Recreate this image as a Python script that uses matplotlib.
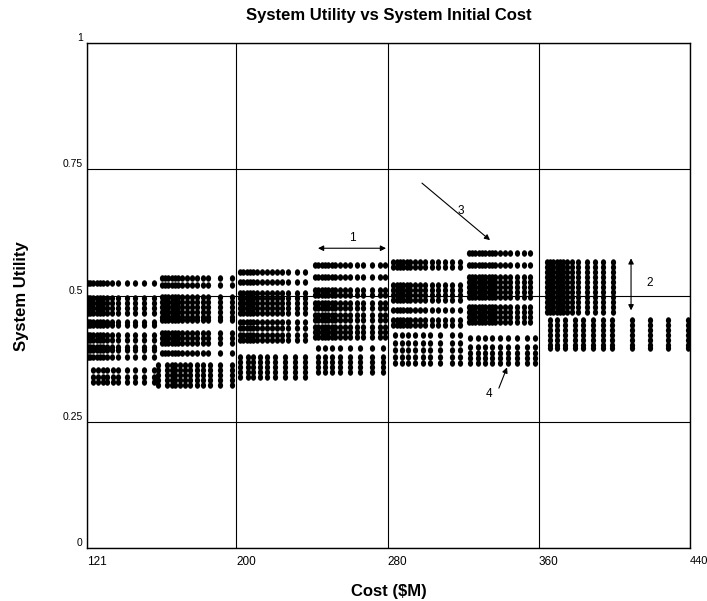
import numpy as np
import matplotlib.pyplot as plt
from matplotlib.path import Path
from matplotlib.transforms import Affine2D, ScaledTranslation

plt.rcParams['font.family'] = ['Liberation Sans', 'DejaVu Sans']

# design families: (cost columns in $M, utility levels) for the upper and lower bands
b1_cost = [121.5, 122.6, 124.2, 126.3, 127.9, 129.5, 131.6, 134.2, 137.4, 142.2, 146.4, 151.2, 156.4]
b1_util = [0.525, 0.495, 0.485, 0.475, 0.465, 0.448, 0.442, 0.422, 0.412, 0.398, 0.392, 0.378]
b1_low_cost = [124.2, 126.8, 129.5, 131.6, 134.7, 137.4, 142.2, 146.4, 151.2, 156.4]
b1_low_util = [0.352, 0.339, 0.329]

b2_cost = [160.7, 162.3, 163.9, 166.0, 167.6, 169.2, 171.3, 173.9, 176.5, 179.2, 182.4, 185.0, 191.4, 197.7]
b2_util = [0.535, 0.521, 0.497, 0.487, 0.477, 0.467, 0.457, 0.451, 0.426, 0.416, 0.406, 0.386]
b2_low_cost = [158.6, 163.3, 166.0, 167.6, 170.2, 172.8, 175.5, 179.2, 182.4, 186.1, 191.4, 197.7]
b2_low_util = [0.362, 0.352, 0.343, 0.333, 0.323]

b3_cost = [201.9, 203.5, 205.6, 207.2, 208.8, 210.9, 213.6, 216.2, 218.9, 221.5, 224.2, 227.3, 232.1, 236.3]
b3_util = [0.547, 0.527, 0.505, 0.495, 0.485, 0.475, 0.465, 0.448, 0.436, 0.422, 0.412]
b3_low_cost = [201.9, 206.2, 208.8, 212.5, 216.2, 220.5, 225.7, 231.0, 236.3]
b3_low_util = [0.378, 0.368, 0.358, 0.349, 0.339]

b4_cost = [241.6, 243.2, 245.3, 246.9, 248.5, 250.6, 252.2, 254.8, 257.5, 260.1, 263.8, 267.0, 271.8, 276.0, 278.5]
b4_util = [0.560, 0.537, 0.511, 0.501, 0.485, 0.475, 0.461, 0.451, 0.438, 0.428, 0.418]
b4_low_cost = [243.2, 246.9, 250.6, 254.8, 260.1, 265.4, 271.8, 277.6]
b4_low_util = [0.396, 0.378, 0.368, 0.358, 0.349]

b5_cost = [282.9, 285.0, 286.6, 288.2, 290.3, 291.9, 294.5, 297.2, 299.8, 303.5, 306.7, 310.4, 314.1, 318.3]
b5_util = [0.566, 0.556, 0.521, 0.511, 0.501, 0.491, 0.471, 0.451, 0.442]
b5_low_cost = [284.0, 287.7, 290.8, 294.5, 298.7, 302.4, 307.7, 314.1, 318.3]
b5_low_util = [0.422, 0.406, 0.392, 0.378, 0.366]

b6_cost = [323.1, 324.7, 326.3, 328.4, 330.0, 331.6, 333.7, 335.3, 336.9, 339.5, 342.2, 344.8, 348.5, 352.2, 355.4]
b6_util = [0.584, 0.560, 0.537, 0.527, 0.517, 0.507, 0.497, 0.477, 0.467, 0.457, 0.448]
b6_low_cost = [323.6, 327.8, 331.6, 335.3, 339.5, 343.7, 348.5, 353.8, 358.0]
b6_low_util = [0.416, 0.398, 0.386, 0.376, 0.366]

b7_cost = [364.3, 365.9, 367.5, 369.6, 371.2, 372.8, 374.9, 377.6, 380.7, 385.5, 389.7, 393.9, 399.2]
b7_util = [0.566, 0.556, 0.547, 0.537, 0.527, 0.517, 0.507, 0.497, 0.487, 0.477, 0.467]
b7_low_cost = [365.9, 369.6, 373.9, 379.2, 383.4, 388.7, 393.9, 398.7, 409.3, 418.8, 428.3, 438.9]
b7_low_util = [0.451, 0.442, 0.432, 0.422, 0.412, 0.402, 0.396]

families = [
    (b1_cost, b1_util), (b1_low_cost, b1_low_util),
    (b2_cost, b2_util), (b2_low_cost, b2_low_util),
    (b3_cost, b3_util), (b3_low_cost, b3_low_util),
    (b4_cost, b4_util), (b4_low_cost, b4_low_util),
    (b5_cost, b5_util), (b5_low_cost, b5_low_util),
    (b6_cost, b6_util), (b6_low_cost, b6_low_util),
    (b7_cost, b7_util), (b7_low_cost, b7_low_util),
]

x_ticks = [121, 200, 280, 360, 440]
y_ticks = [0, 0.25, 0.5, 0.75, 1]
y_tick_labels = ['0', '0.25', '0.5', '0.75', '1']

# slightly tall dot, like the original plotting package draws them
dot = Path.unit_circle().transformed(Affine2D().scale(0.8, 1.0))

fig = plt.figure(figsize=(7.07, 6.01), dpi=100)
ax = fig.add_axes([0.123, 0.088, 0.853, 0.840])

for cost, util in families:
    xx, yy = np.meshgrid(cost, util)
    ax.scatter(xx.ravel(), yy.ravel(), s=22, marker=dot, color='black', linewidths=0, zorder=3)

ax.set_xlim(121, 440)
ax.set_ylim(0, 1)
ax.set_xticks(x_ticks)
ax.set_xticklabels([str(t) for t in x_ticks], fontsize=8.5)
ax.set_yticks(y_ticks)
ax.set_yticklabels(y_tick_labels, fontsize=7.5)
for lab in ax.get_xticklabels():
    lab.set_horizontalalignment('left')
for lab in ax.get_yticklabels():
    lab.set_verticalalignment('bottom')
# last cost label sits on the right edge; pull it in so it stays on the canvas
last = ax.get_xticklabels()[-1]
last.set_fontsize(8)
last.set_transform(last.get_transform() + ScaledTranslation(-4 / 72, 0, fig.dpi_scale_trans))
ax.tick_params(axis='x', length=0, pad=6)
ax.tick_params(axis='y', length=0, pad=3)
ax.grid(True, color='black', linewidth=0.8)
ax.set_axisbelow(True)
for sp in ax.spines.values():
    sp.set_linewidth(1.0)

ax.set_title('System Utility vs System Initial Cost', fontsize=12, fontweight='bold', pad=16.5)
ax.set_xlabel('Cost ($M)', fontsize=12, fontweight='bold', labelpad=11)
ax.set_ylabel('System Utility', fontsize=12, fontweight='bold', labelpad=24)

# callouts
arrow = dict(arrowstyle='<|-|>', color='black', lw=0.8, mutation_scale=8, shrinkA=0, shrinkB=0)
single = dict(arrowstyle='-|>', color='black', lw=0.8, mutation_scale=8, shrinkA=0, shrinkB=0)
ax.annotate('', xy=(243.2, 0.594), xytext=(279.2, 0.594), arrowprops=arrow)
ax.text(261.2, 0.602, '1', fontsize=8.5, ha='center', va='bottom')
ax.annotate('', xy=(408.8, 0.574), xytext=(408.8, 0.471), arrowprops=arrow)
ax.text(418.8, 0.525, '2', fontsize=8.5, ha='center', va='center')
ax.annotate('', xy=(334.2, 0.610), xytext=(298.2, 0.723), arrowprops=single)
ax.text(319.0, 0.667, '3', fontsize=8.5, ha='center', va='center')
ax.annotate('', xy=(343.2, 0.358), xytext=(338.9, 0.317), arrowprops=single)
ax.text(333.7, 0.305, '4', fontsize=8.5, ha='center', va='center')

fig.savefig('out.png', dpi=100)
